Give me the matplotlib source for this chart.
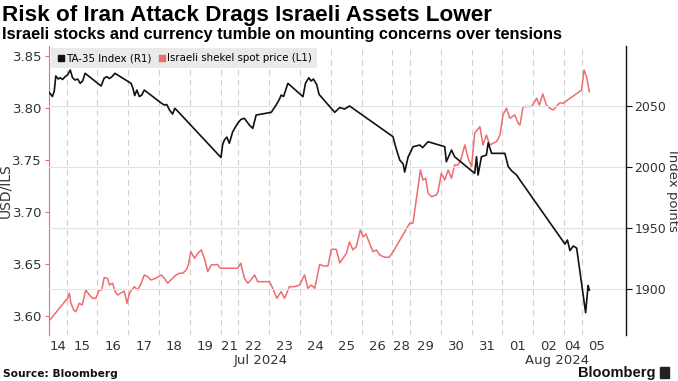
import numpy as np
import matplotlib
matplotlib.use('Agg')
import matplotlib.pyplot as plt
from matplotlib.lines import Line2D

# Eixo x: posição em "sessões" (domingos são mais curtos no gráfico)
dias = ['14', '15', '16', '17', '18', '19', '21', '22', '23', '24', '25', '26',
        '28', '29', '30', '31', '01', '02', '04', '05']
larguras = [0.57, 1, 1, 1, 1, 1, 0.57, 1, 1, 1, 1, 1,
            0.57, 1, 1, 1, 1, 1, 0.57, 1]

# TA-35 (eixo da direita)
ta35_x = [0.01, 0.11, 0.17, 0.22, 0.30, 0.36, 0.44, 0.52, 0.60, 0.69, 0.76, 0.84,
          0.93, 1.01, 1.09, 1.17, 1.69, 1.79, 1.88, 1.96, 2.05, 2.14, 2.66, 2.72,
          2.78, 2.85, 2.93, 3.01, 3.09, 3.64, 3.74, 3.82, 3.91, 4.01, 4.08, 4.17,
          5.58, 5.63, 5.69, 5.77, 5.85, 5.96, 6.12, 6.23, 6.34, 6.50, 6.61, 6.72,
          7.21, 7.37, 7.48, 7.53, 7.61, 7.75, 8.24, 8.32, 8.43, 8.50, 8.58, 8.69,
          8.76, 9.27, 9.43, 9.59, 9.75, 11.16, 11.26, 11.38, 11.49, 11.54, 11.65,
          11.81, 12.03, 12.12, 12.30, 12.84, 12.89, 13.06, 13.16, 13.81, 13.87,
          13.92, 14.03, 14.19, 14.25, 14.36, 14.79, 14.90, 15.02, 15.17, 15.28,
          16.74, 16.82, 16.90, 17.01, 17.12, 17.41, 17.49, 17.53]
ta35 = [2060.8, 2057.5, 2062.0, 2074.3, 2071.8, 2072.9, 2071.4, 2073.7, 2075.1,
        2079.2, 2073.0, 2071.0, 2071.8, 2068.3, 2070.2, 2076.5, 2066.1, 2072.6,
        2073.7, 2072.2, 2073.9, 2076.5, 2068.3, 2064.5, 2058.3, 2062.8, 2057.5,
        2058.7, 2062.8, 2052.2, 2050.6, 2051.0, 2046.5, 2043.2, 2047.9, 2045.7,
        2007.7, 2017.9, 2022.0, 2024.4, 2019.3, 2028.8, 2035.6, 2038.9, 2039.7,
        2034.2, 2031.5, 2042.4, 2044.6, 2050.6, 2055.5, 2058.7, 2057.5, 2068.3,
        2057.4, 2068.3, 2072.9, 2070.2, 2071.8, 2066.9, 2059.3, 2044.6, 2048.5,
        2047.3, 2049.8, 2024.7, 2015.2, 2005.6, 2002.4, 1995.8, 2008.1, 2016.5,
        2017.9, 2015.8, 2020.6, 2016.5, 2004.2, 2013.8, 2008.3, 1994.8, 2008.3,
        1993.4, 2008.3, 2009.7, 2019.8, 2011.1, 2011.1, 2000.2, 1996.6, 1993.4,
        1989.3, 1937.0, 1940.3, 1931.7, 1935.4, 1933.7, 1880.9, 1903.1, 1899.4]

# Shekel (eixo da esquerda)
ils_x = [0.00, 0.60, 0.66, 0.71, 0.80, 0.87, 0.98, 1.08, 1.19, 1.31, 1.41, 1.52,
         1.63, 1.71, 1.79, 1.90, 1.96, 2.06, 2.15, 2.23, 2.44, 2.53, 2.61, 2.68,
         2.77, 2.88, 2.99, 3.09, 3.20, 3.31, 3.47, 3.64, 3.74, 3.85, 4.01, 4.12,
         4.23, 4.34, 4.45, 4.52, 4.60, 4.72, 4.83, 4.94, 5.04, 5.15, 5.26, 5.47,
         5.56, 6.12, 6.22, 6.34, 6.45, 6.55, 6.67, 6.77, 6.93, 7.15, 7.26, 7.39,
         7.53, 7.64, 7.80, 7.97, 8.13, 8.29, 8.40, 8.51, 8.62, 8.78, 8.91, 9.05,
         9.16, 9.32, 9.43, 9.54, 9.65, 9.75, 9.86, 9.97, 10.10, 10.19, 10.28,
         10.40, 10.51, 10.62, 10.73, 10.89, 11.03, 11.16, 11.70, 11.81, 11.92,
         12.05, 12.13, 12.22, 12.30, 12.41, 12.57, 12.62, 12.73, 12.84, 12.95,
         13.06, 13.16, 13.27, 13.36, 13.49, 13.60, 13.71, 13.81, 13.98, 14.08,
         14.19, 14.30, 14.41, 14.52, 14.63, 14.73, 14.84, 14.95, 15.11, 15.22,
         15.28, 15.38, 15.66, 15.82, 15.91, 16.02, 16.14, 16.25, 16.36, 16.47,
         16.58, 16.68, 17.28, 17.36, 17.44, 17.53]
ils = [3.5949, 3.6167, 3.6215, 3.6119, 3.6055, 3.6038, 3.6119, 3.6103, 3.6247,
       3.6199, 3.6167, 3.6167, 3.6247, 3.6247, 3.6367, 3.6358, 3.6295, 3.6312,
       3.6228, 3.6199, 3.6237, 3.6119, 3.6215, 3.6247, 3.6279, 3.6247, 3.6312,
       3.6391, 3.6375, 3.6343, 3.6360, 3.6391, 3.6360, 3.6312, 3.6360, 3.6391,
       3.6408, 3.6408, 3.6439, 3.6487, 3.6615, 3.6552, 3.6600, 3.6632, 3.6552,
       3.6423, 3.6487, 3.6492, 3.6456, 3.6456, 3.6504, 3.6360, 3.6312, 3.6343,
       3.6391, 3.6327, 3.6327, 3.6327, 3.6263, 3.6167, 3.6231, 3.6167, 3.6279,
       3.6279, 3.6295, 3.6391, 3.6263, 3.6295, 3.6263, 3.6492, 3.6478, 3.6478,
       3.6638, 3.6638, 3.6507, 3.6552, 3.6600, 3.6709, 3.6632, 3.6663, 3.6824,
       3.6757, 3.6786, 3.6696, 3.6615, 3.6632, 3.6584, 3.6562, 3.6560, 3.6612,
       3.6888, 3.6891, 3.7122, 3.7401, 3.7305, 3.7321, 3.7177, 3.7144, 3.7161,
       3.7192, 3.7369, 3.7305, 3.7401, 3.7321, 3.7449, 3.7449, 3.7497, 3.7641,
       3.7513, 3.7433, 3.7754, 3.7817, 3.7641, 3.7737, 3.7641, 3.7658, 3.7673,
       3.7737, 3.7930, 3.7994, 3.7898, 3.7930, 3.7850, 3.7834, 3.8010, 3.8012,
       3.8090, 3.8026, 3.8132, 3.8026, 3.7994, 3.7978, 3.8016, 3.8048, 3.8042,
       3.8170, 3.8362, 3.8298, 3.8154]

ticks_esq = [3.60, 3.65, 3.70, 3.75, 3.80, 3.85]
ticks_dir = [1900, 1950, 2000, 2050]

vermelho = '#ee6b6e'
cinza_txt = '#333333'

# Limites de cada dia no eixo x
fim = np.cumsum(larguras)
inicio = fim - np.array(larguras)
centros = (inicio + fim) / 2

fig = plt.figure(figsize=(6.78, 3.81), dpi=100)
ax = fig.add_axes([0.0723, 0.1207, 0.851, 0.7586])
ax2 = ax.twinx()

# Linhas verticais tracejadas entre os dias
for b in fim[:-1]:
    ax.axvline(b, color='#cfcfcf', lw=0.8, ls=(0, (5, 4)), zorder=0)

ax.plot(ils_x, ils, color=vermelho, lw=1.1, zorder=3)
ax2.plot(ta35_x, ta35, color='#111111', lw=1.2, zorder=3)

ax.set_xlim(0, 18.72)
ax.set_ylim(3.5814, 3.8593)
ax2.set_ylim(1862.7, 2098.8)

ax.set_yticks(ticks_esq)
ax.set_yticklabels(['%.2f' % t for t in ticks_esq])
ax2.set_yticks(ticks_dir)
ax2.grid(axis='y', color='#e3e3e3', lw=0.8)
ax2.set_axisbelow(True)

ax.set_xticks(centros)
ax.set_xticklabels(dias)
ax.tick_params(axis='x', length=0, pad=3.5, labelsize=9.5, labelcolor=cinza_txt)
ax.tick_params(axis='y', length=3, width=0.8, color=vermelho, labelsize=9.5,
               labelcolor=cinza_txt, pad=2)
ax2.tick_params(axis='y', length=4, width=0.8, color='#111111', labelsize=9,
                labelcolor=cinza_txt, pad=2)

for a in (ax, ax2):
    a.spines['top'].set_visible(False)
    a.spines['bottom'].set_visible(False)
ax2.spines['left'].set_visible(False)
ax.spines['right'].set_visible(False)
ax.spines['left'].set_color(vermelho)
ax.spines['left'].set_linewidth(0.8)
ax2.spines['right'].set_color('#111111')
ax2.spines['right'].set_linewidth(1.0)

ax.set_ylabel('USD/ILS', fontsize=10, color=cinza_txt)
ax.yaxis.set_label_coords(-0.063, 0.5)
ax2.set_ylabel('Index points', fontsize=9.5, color=cinza_txt, rotation=270,
               va='center')
ax2.yaxis.set_label_coords(1.08, 0.5)

# Rótulos dos meses
ax.text(6.86, -0.088, 'Jul 2024', transform=ax.get_xaxis_transform(),
        ha='center', va='center', fontsize=9.5, color=cinza_txt)
ax.text(16.49, -0.088, 'Aug 2024', transform=ax.get_xaxis_transform(),
        ha='center', va='center', fontsize=9.5, color=cinza_txt)

# Legenda
h1 = Line2D([], [], marker='s', ls='none', color='#111111', markersize=5)
h2 = Line2D([], [], marker='s', ls='none', color=vermelho, markersize=5)
leg = ax2.legend([h1, h2], ['TA-35 Index (R1)', 'Israeli shekel spot price (L1)'],
                 loc='upper left', bbox_to_anchor=(0.0, 1.0), ncol=2,
                 fontsize=7.4, frameon=True, fancybox=False, borderaxespad=0.2,
                 handletextpad=0.1, columnspacing=0.5, handlelength=0.9,
                 borderpad=0.5)
leg.get_frame().set_facecolor('#e9e9e9')
leg.get_frame().set_edgecolor('none')
leg.get_frame().set_alpha(0.95)
leg.set_zorder(10)

# Títulos e fonte
fig.text(0.003, 0.96, 'Risk of Iran Attack Drags Israeli Assets Lower',
         fontsize=16.2, fontweight='bold', family='Liberation Sans',
         ha='left', va='center', color='#000000')
fig.text(0.003, 0.91,
         'Israeli stocks and currency tumble on mounting concerns over tensions',
         fontsize=11.8, fontweight='bold', family='Liberation Sans',
         ha='left', va='center', color='#000000')
fig.text(0.005, 0.018, 'Source: Bloomberg', fontsize=7.7, fontweight='bold',
         ha='left', va='center', color='#111111')
fig.text(0.967, 0.022, 'Bloomberg', fontsize=10.5, fontweight='bold',
         family='Liberation Sans', ha='right', va='center', color='#111111')
fig.patches.append(plt.Rectangle((0.973, 0.008), 0.014, 0.028, color='#222222',
                                 transform=fig.transFigure, figure=fig))

fig.savefig('out.png', dpi=100)
